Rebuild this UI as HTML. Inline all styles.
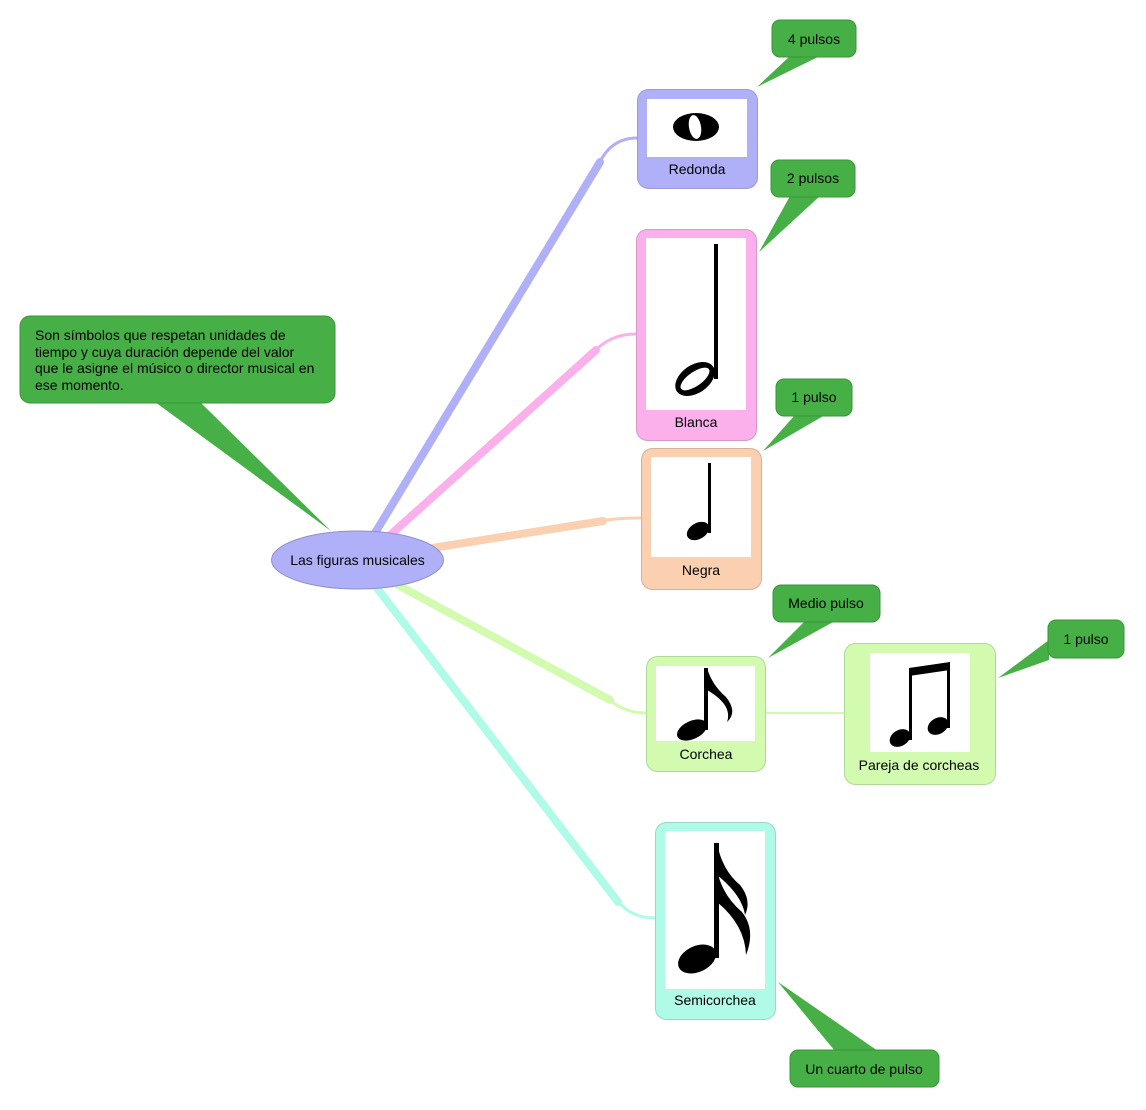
<!DOCTYPE html>
<html><head><meta charset="utf-8"><style>
html,body{margin:0;padding:0;background:#fff;}
svg{display:block;font-family:"Liberation Sans",sans-serif;}
</style></head><body>
<svg width="1146" height="1110" viewBox="0 0 1146 1110" xmlns="http://www.w3.org/2000/svg">
<g fill="none" stroke-linecap="round">
 <path d="M372 538 L600 162" stroke="#b0b0f8" stroke-width="8"/>
 <path d="M598 166 Q610 138 637 138" stroke="#b0b0f8" stroke-width="3"/>
 <path d="M387 538 L596 350" stroke="#fbb0ec" stroke-width="8"/>
 <path d="M594 352 Q610 334 636 334" stroke="#fbb0ec" stroke-width="3"/>
 <path d="M432 548 L603 521" stroke="#fbd0b0" stroke-width="8"/>
 <path d="M600 521 Q618 518 641 518" stroke="#fbd0b0" stroke-width="3"/>
 <path d="M398 585 L610 700" stroke="#d2fbb0" stroke-width="8"/>
 <path d="M607 698 Q624 713 646 713" stroke="#d2fbb0" stroke-width="3"/>
 <path d="M377 588 L618 902" stroke="#b0fbe8" stroke-width="8"/>
 <path d="M616 899 Q630 918 655 918" stroke="#b0fbe8" stroke-width="3"/>
 <path d="M765 713 L844 713" stroke="#d2fbb0" stroke-width="2"/>
</g>
<g fill="#46b046">
 <polygon points="155,402 200,402 331,531"/>
 <polygon points="790,56 820,56 757,87"/>
 <polygon points="790,196 820,196 759,252"/>
 <polygon points="795,415 825,415 763,451"/>
 <polygon points="805,621 835,621 768,658"/>
 <polygon points="1049,640 1049,660 998,678"/>
 <polygon points="835,1051 878,1051 778,982"/>
</g>
<g fill="#46b046" stroke="#3a963a" stroke-width="1">
 <rect x="20" y="316" width="315" height="87" rx="10"/>
 <rect x="772" y="20" width="84" height="37" rx="8"/>
 <rect x="771" y="160" width="84" height="37" rx="8"/>
 <rect x="776" y="379" width="76" height="37" rx="8"/>
 <rect x="773" y="585" width="107" height="37" rx="8"/>
 <rect x="1048" y="620" width="76" height="38" rx="8"/>
 <rect x="790" y="1050" width="149" height="37" rx="8"/>
</g>
<g font-size="14" fill="#000">
 <text x="35" y="340">Son símbolos que respetan unidades de</text>
 <text x="35" y="357">tiempo y cuya duración depende del valor</text>
 <text x="35" y="373">que le asigne el músico o director musical en</text>
 <text x="35" y="390">ese momento.</text>
 <g text-anchor="middle">
 <text x="814" y="44">4 pulsos</text>
 <text x="813" y="183">2 pulsos</text>
 <text x="814" y="402">1 pulso</text>
 <text x="826" y="608">Medio pulso</text>
 <text x="1086" y="644">1 pulso</text>
 <text x="864" y="1074">Un cuarto de pulso</text>
 </g>
</g>
<g stroke-width="1">
 <rect x="637.5" y="89.5" width="120" height="99" rx="11" fill="#b0b0f8" stroke="#9a9ad8"/>
 <rect x="636.5" y="229.5" width="120" height="211" rx="11" fill="#fbb0ec" stroke="#d898c8"/>
 <rect x="641.5" y="448.5" width="120" height="141" rx="11" fill="#fbd0b0" stroke="#d8b098"/>
 <rect x="646.5" y="656.5" width="119" height="115" rx="11" fill="#d2fbb0" stroke="#b0d898"/>
 <rect x="844.5" y="643.5" width="151" height="141" rx="11" fill="#d2fbb0" stroke="#b0d898"/>
 <rect x="655.5" y="822.5" width="120" height="197" rx="11" fill="#b0fbe8" stroke="#98d8c8"/>
</g>
<g fill="#fff">
 <rect x="647" y="99" width="100" height="58"/>
 <rect x="646" y="238" width="100" height="172"/>
 <rect x="651" y="457" width="100" height="100"/>
 <rect x="656" y="666" width="99" height="75"/>
 <rect x="870" y="653" width="100" height="99"/>
 <rect x="665" y="831" width="100" height="158"/>
</g>
<g font-size="14" fill="#000" text-anchor="middle">
 <text x="697" y="174">Redonda</text>
 <text x="696" y="427">Blanca</text>
 <text x="701" y="575">Negra</text>
 <text x="706" y="759">Corchea</text>
 <text x="919" y="770">Pareja de corcheas</text>
 <text x="715" y="1005">Semicorchea</text>
</g>
<g fill="#000">
 <ellipse cx="696" cy="127" rx="23" ry="14"/>
 <ellipse cx="695" cy="127" rx="6" ry="12" transform="rotate(-10 695 127)" fill="#fff"/>
 <rect x="714" y="244" width="4" height="135"/>
 <ellipse cx="695" cy="379" rx="22" ry="14" transform="rotate(-35 695 379)"/>
 <ellipse cx="695" cy="379" rx="17" ry="7" transform="rotate(-35 695 379)" fill="#fff"/>
 <rect x="708" y="463" width="3" height="70"/>
 <ellipse cx="698" cy="531" rx="12" ry="8" transform="rotate(-30 698 531)"/>
 <rect x="704" y="668" width="4" height="62"/>
 <ellipse cx="692" cy="730" rx="16" ry="9" transform="rotate(-25 692 730)"/>
 <path d="M707 668 Q712 685 726 697 Q738 712 727 722 Q733 705 707 690 Z"/>
 <rect x="909" y="668" width="3" height="72"/>
 <rect x="947" y="663" width="3" height="65"/>
 <polygon points="909,668 950,662 950,670 909,676"/>
 <ellipse cx="900" cy="738" rx="11" ry="8" transform="rotate(-30 900 738)"/>
 <ellipse cx="938" cy="726" rx="11" ry="8" transform="rotate(-30 938 726)"/>
 <rect x="714" y="843" width="5" height="115"/>
 <ellipse cx="697" cy="959" rx="20" ry="13" transform="rotate(-25 697 959)"/>
 <path d="M717 843 Q722 870 740 885 Q752 900 745 915 Q742 895 717 875 Z"/>
 <path d="M717 870 Q722 895 742 912 Q756 930 746 955 Q745 925 717 902 Z"/>
</g>
<ellipse cx="357.5" cy="560" rx="86" ry="29" fill="#b0b0f8" stroke="#9090c8" stroke-width="1"/>
<text x="357.5" y="565" font-size="14" text-anchor="middle" fill="#000">Las figuras musicales</text>
</svg>
</body></html>
